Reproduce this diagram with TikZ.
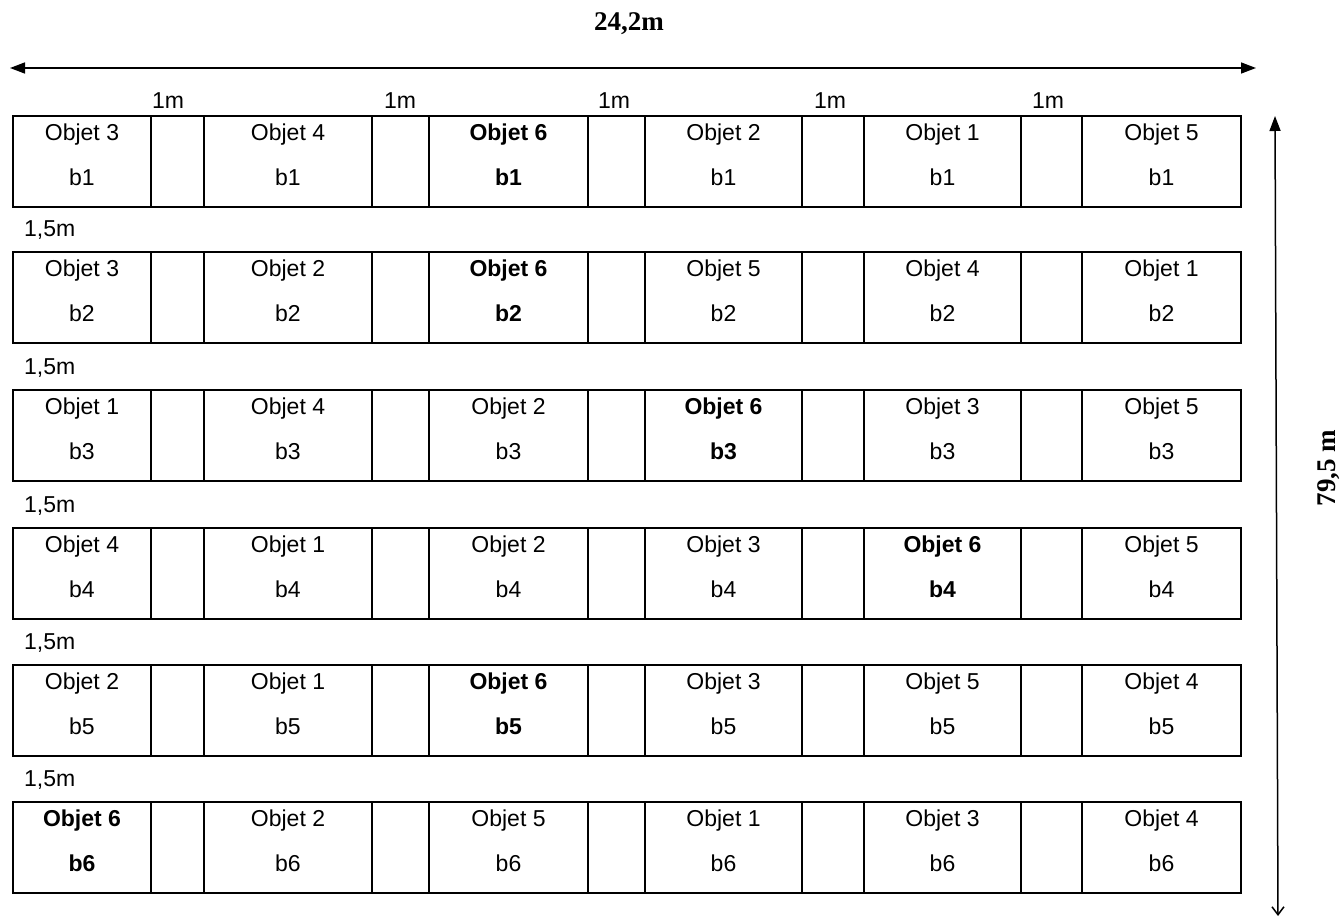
\documentclass[tikz,border=0pt]{standalone}
\usepackage{fontspec}
\setmainfont{Liberation Sans}
\newfontfamily\dimfont{Liberation Serif}
\usetikzlibrary{arrows.meta,calc}
\newcommand\rowtop{0}
\newcommand\objcell[5]{% #1 row, #2 col, #3 left x, #4 width, #5 object
  \node[objbox, minimum width=#4pt] (o#1#2) at (#3,\rowtop) {};
  \node[lbl] (t#1#2) at ($(o#1#2.north)+(0,19)$) {\ifnum#5=6 \bfseries\fi Objet #5};
  \node[lbl] (b#1#2) at ($(o#1#2.north)+(0,61)$) {\ifnum#5=6 \bfseries\fi b#1};
}
\newcommand\gapcell[4]{% #1 row, #2 gap, #3 left x, #4 width
  \node[objbox, minimum width=#4pt] (g#1#2) at (#3,\rowtop) {};
}
\newcommand\objrow[8]{% #1 row, #2 top, #3-#8 objects
  \renewcommand\rowtop{#2}%
  \objcell{#1}{1}{13}{138}{#3}
  \gapcell{#1}{1}{151}{53}
  \objcell{#1}{2}{204}{168}{#4}
  \gapcell{#1}{2}{372}{57}
  \objcell{#1}{3}{429}{159}{#5}
  \gapcell{#1}{3}{588}{57}
  \objcell{#1}{4}{645}{157}{#6}
  \gapcell{#1}{4}{802}{62}
  \objcell{#1}{5}{864}{157}{#7}
  \gapcell{#1}{5}{1021}{61}
  \objcell{#1}{6}{1082}{159}{#8}
}
\begin{document}
\begin{tikzpicture}[x=1pt,y=-1pt,
  objbox/.style={draw, line width=1.5pt, rectangle, minimum height=91pt, inner sep=0pt, outer sep=0pt, anchor=north west},
  lbl/.style={font=\fontsize{23}{25}\selectfont, inner sep=0pt},
  dimlbl/.style={font=\dimfont\bfseries\fontsize{27}{29}\selectfont, inner sep=0pt},
  dimarrow/.style={line width=1.5pt}]
\useasboundingbox (0,0) rectangle (1342,918);

\objrow{1}{116}{3}{4}{6}{2}{1}{5}
\objrow{2}{252}{3}{2}{6}{5}{4}{1}
\objrow{3}{390}{1}{4}{2}{6}{3}{5}
\objrow{4}{528}{4}{1}{2}{3}{6}{5}
\objrow{5}{665}{2}{1}{6}{3}{5}{4}
\objrow{6}{802}{6}{2}{5}{1}{3}{4}

% gap labels
\node[lbl] (m1) at (168,101) {1m};
\node[lbl] (m2) at (400,101) {1m};
\node[lbl] (m3) at (614,101) {1m};
\node[lbl] (m4) at (830,101) {1m};
\node[lbl] (m5) at (1048,101) {1m};
\foreach \y [count=\i] in {230,368,506,643,780}
  \node[lbl, anchor=west] (s\i) at (24,\y) {1,5m};

% dimension arrows
\coordinate (hl) at (10,68);
\coordinate (hr) at (1256,68);
\draw[dimarrow, {Triangle[length=15pt,width=11pt]}-{Triangle[length=15pt,width=11pt]}] (hl) -- (hr);
\node[dimlbl] (wlbl) at (629,24) {24,2m};

\coordinate (vt) at (1275,116);
\coordinate (vb) at (1278,916);
\draw[dimarrow, {Triangle[length=15pt,width=11pt]}-{Straight Barb[length=8pt,width=12pt]}] (vt) -- (vb);
\node[dimlbl, rotate=90] (hlbl) at (1329,468) {79,5 m};
\end{tikzpicture}
\end{document}
